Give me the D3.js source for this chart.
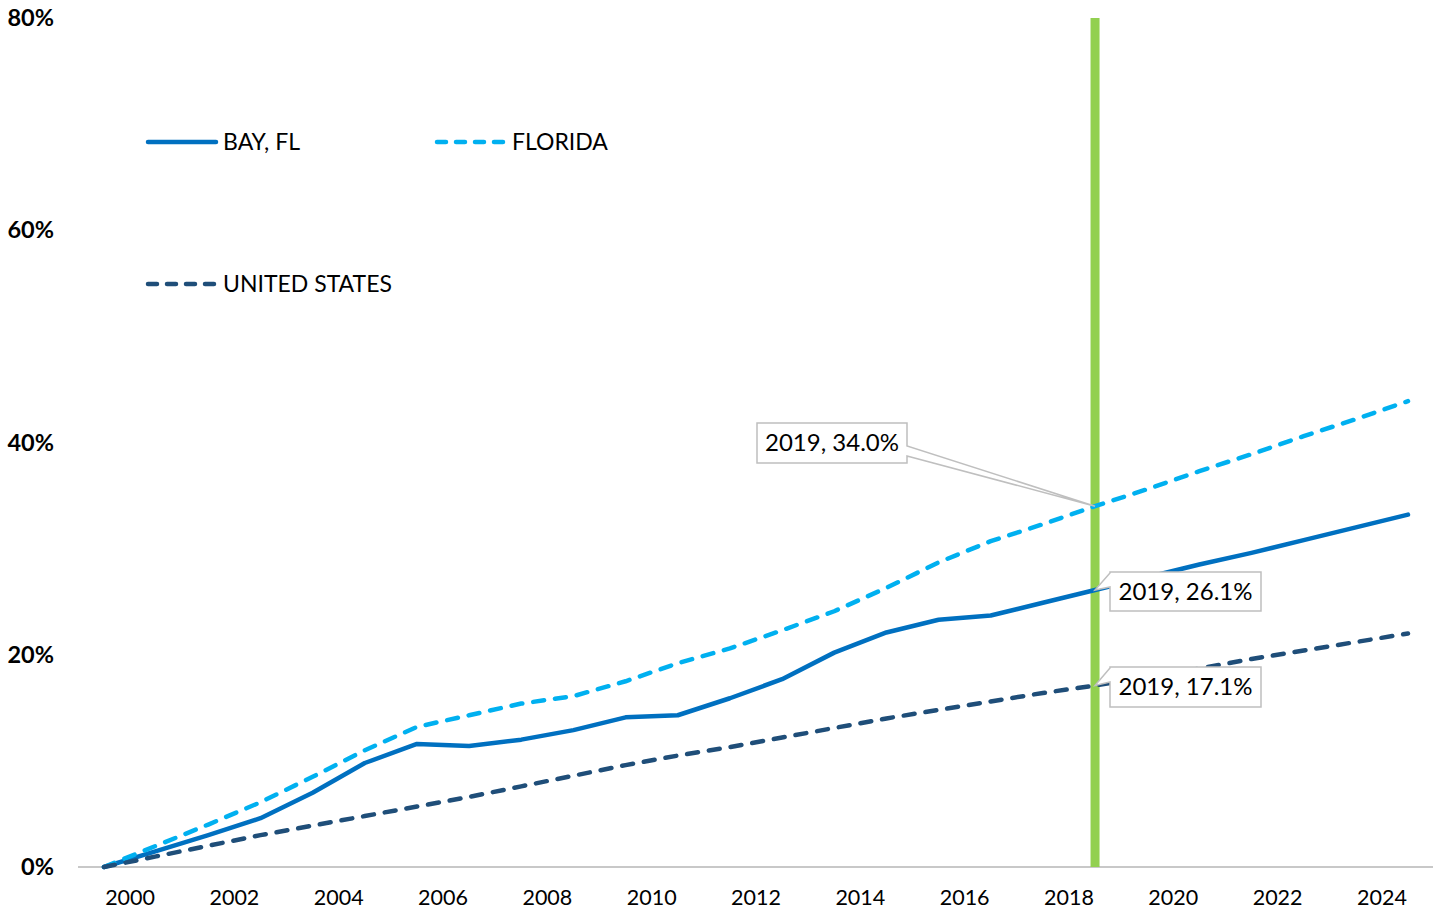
<!DOCTYPE html>
<html>
<head>
<meta charset="utf-8">
<script src="https://cdn.jsdelivr.net/npm/d3@7"></script>
<style>
    body { margin: 0; background: #fff; }
    svg { display: block; font-family: Lato, "Open Sans", sans-serif; }
    .tick line { display: none; }
</style>
</head>
<body>
<script>
// data
const years = d3.range(2000, 2026);
const bay = [0, 1.5, 3.0, 4.6, 7.0, 9.8, 11.6, 11.4, 12.0, 12.9, 14.1, 14.3, 15.9, 17.7, 20.2, 22.1, 23.3, 23.7, 24.9, 26.1,
    27.3, 28.5, 29.6, 30.8, 32.0, 33.2];
const florida = [0, 2.0, 4.0, 6.1, 8.5, 11.0, 13.2, 14.3, 15.4, 16.1, 17.5, 19.2, 20.6, 22.3, 24.1, 26.3, 28.7, 30.7, 32.3, 34.0,
    35.6, 37.3, 38.9, 40.6, 42.2, 43.9];
const us = [0, 1.0, 2.0, 3.0, 3.9, 4.8, 5.7, 6.6, 7.6, 8.6, 9.6, 10.5, 11.3, 12.2, 13.1, 14.0, 14.8, 15.6, 16.4, 17.1,
    17.9, 18.7, 19.6, 20.4, 21.2, 22.0];
const yTicks = [0, 20, 40, 60, 80];
const xTicks = d3.range(2000, 2026, 2);
const markerYear = 2019;

const series = [
    { name: "BAY, FL", values: bay, color: "#0070C0", dash: null },
    { name: "FLORIDA", values: florida, color: "#00B0F0", dash: "11,11" },
    { name: "UNITED STATES", values: us, color: "#1F4E79", dash: "11,11" }
];

const w = 1433, h = 915;
const svg = d3.select("body").append("svg")
    .attr("width", w)
    .attr("height", h);

// category bands: points sit at band start, labels at band centre
const step = 52.16;
const xb = d3.scaleBand()
    .domain(years)
    .range([104, 104 + step * years.length])
    .paddingInner(0).paddingOuter(0);
const x = d => xb(d);

const y = d3.scaleLinear()
    .domain([0, 80])
    .range([867, 18]);

// x axis line
svg.append("line")
    .attr("x1", 78).attr("x2", w)
    .attr("y1", y(0)).attr("y2", y(0))
    .attr("stroke", "#c8c8c8")
    .attr("stroke-width", 2);

const xAxis = svg.append("g")
    .attr("transform", "translate(0," + y(0) + ")")
    .call(d3.axisBottom(xb).tickValues(xTicks).tickSize(0).tickPadding(23));
xAxis.select(".domain").remove();
xAxis.selectAll("text")
    .attr("font-family", "Lato, sans-serif")
    .attr("font-size", 21.5)
    .attr("fill", "#000");

const yAxis = svg.append("g")
    .attr("transform", "translate(54,0)")
    .call(d3.axisLeft(y).tickValues(yTicks).tickSize(0).tickPadding(0).tickFormat(d => d + "%"));
yAxis.select(".domain").remove();
yAxis.selectAll("text")
    .attr("font-family", "Lato, sans-serif")
    .attr("font-size", 23.5)
    .attr("font-weight", "bold")
    .attr("fill", "#000");

// green marker at 2019
svg.append("line")
    .attr("x1", x(markerYear)).attr("x2", x(markerYear))
    .attr("y1", y(80)).attr("y2", y(0))
    .attr("stroke", "#92D050")
    .attr("stroke-width", 9);

const line = d3.line()
    .x((d, i) => x(years[i]))
    .y(d => y(d));

svg.selectAll(".series")
    .data(series)
    .enter().append("path")
    .attr("class", "series")
    .attr("d", d => line(d.values))
    .attr("fill", "none")
    .attr("stroke", d => d.color)
    .attr("stroke-width", 4.5)
    .attr("stroke-linecap", "round")
    .attr("stroke-linejoin", "round")
    .attr("stroke-dasharray", d => d.dash);

// legend
const legendPos = [
    { lx: 148, ly: 142 },
    { lx: 437, ly: 142 },
    { lx: 148, ly: 284 }
];
const legend = svg.selectAll(".legend")
    .data(series)
    .enter().append("g")
    .attr("class", "legend")
    .attr("transform", (d, i) => "translate(" + legendPos[i].lx + "," + legendPos[i].ly + ")");
legend.append("line")
    .attr("x1", 0).attr("x2", 68)
    .attr("stroke", d => d.color)
    .attr("stroke-width", 4.5)
    .attr("stroke-linecap", "round")
    .attr("stroke-dasharray", d => d.dash ? "9,10" : null);
legend.append("text")
    .attr("x", 75)
    .attr("dy", "0.35em")
    .attr("font-size", 23)
    .attr("fill", "#000")
    .text(d => d.name);

// callouts
const idx = years.indexOf(markerYear);
const callouts = [
    { s: florida, bx: 757, by: 423, bw: 150, bh: 40, side: "left" },
    { s: bay, bx: 1110, by: 572, bw: 151, bh: 39, side: "right" },
    { s: us, bx: 1110, by: 667, bw: 151, bh: 40, side: "right" }
];
callouts.forEach(c => {
    const px = x(markerYear), py = y(c.s[idx]);
    let pts;
    if (c.side === "left") {
        // box left of the point, wedge from right edge
        pts = [[c.bx, c.by], [c.bx + c.bw, c.by], [c.bx + c.bw, c.by + 23], [px, py],
            [c.bx + c.bw, c.by + 33], [c.bx + c.bw, c.by + c.bh], [c.bx, c.by + c.bh]];
    } else {
        pts = [[c.bx, c.by], [c.bx + c.bw, c.by], [c.bx + c.bw, c.by + c.bh], [c.bx, c.by + c.bh],
            [c.bx, c.by + 15], [px, py], [c.bx, c.by + 1]];
    }
    svg.append("path")
        .attr("d", "M" + pts.join("L") + "Z")
        .attr("fill", "#fff")
        .attr("stroke", "#bfbfbf")
        .attr("stroke-width", 1.5);
    svg.append("text")
        .attr("x", c.bx + c.bw / 2)
        .attr("y", c.by + c.bh / 2)
        .attr("dy", "0.35em")
        .attr("text-anchor", "middle")
        .attr("font-size", 24)
        .attr("fill", "#000")
        .text(markerYear + ", " + c.s[idx].toFixed(1) + "%");
});
</script>
</body>
</html>
